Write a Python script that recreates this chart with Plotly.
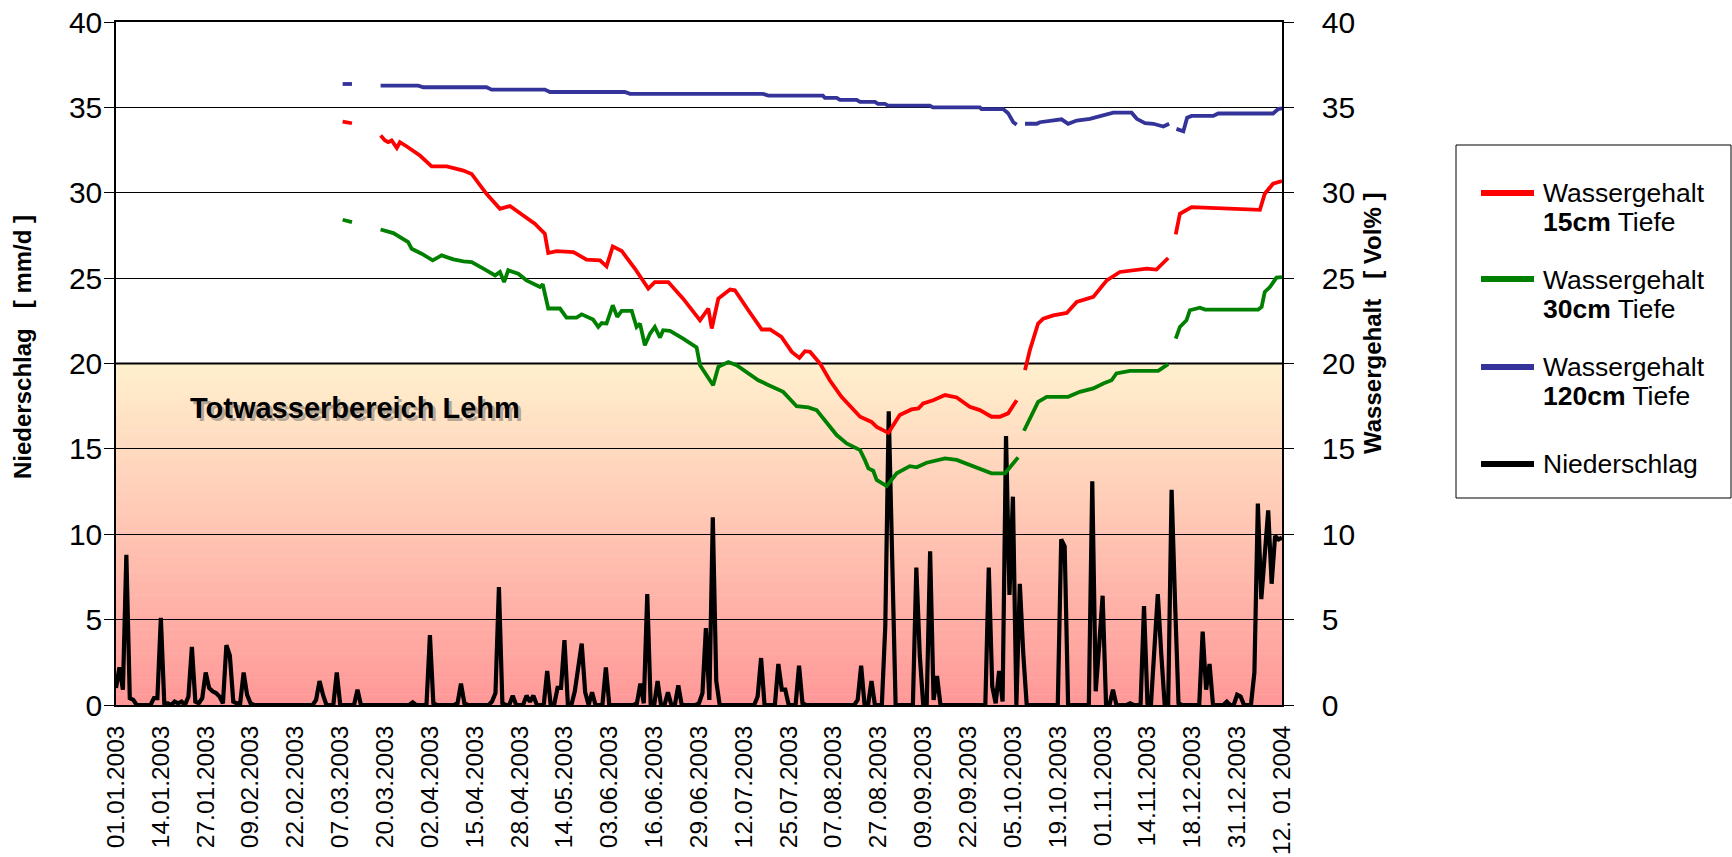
import plotly.graph_objects as go

# ---------------- data ----------------
TICK_LABELS = ["01.01.2003", "14.01.2003", "27.01.2003", "09.02.2003", "22.02.2003",
               "07.03.2003", "20.03.2003", "02.04.2003", "15.04.2003", "28.04.2003",
               "14.05.2003", "03.06.2003", "16.06.2003", "29.06.2003", "12.07.2003",
               "25.07.2003", "07.08.2003", "27.08.2003", "09.09.2003", "22.09.2003",
               "05.10.2003", "19.10.2003", "01.11.2003", "14.11.2003", "18.12.2003",
               "31.12.2003", "12. 01 2004"]
TICK_STEP = 13          # one label every 13 measuring days
N_DAYS = 339            # day index 0 .. 338

# daily precipitation [mm/d], 13 values per row (one row per label interval)
PRECIP = [
    1.0, 2.2, 0.9, 8.8, 0.4, 0.3, 0, 0, 0, 0, 0, 0.4, 0.4,
    5.1, 0.1, 0.1, 0, 0.2, 0.1, 0.2, 0, 0.5, 3.4, 0.2, 0.1, 0.4,
    1.9, 1.0, 0.8, 0.7, 0.5, 0.1, 3.5, 2.9, 0.2, 0.1, 0.1, 1.9, 0.6,
    0.1, 0, 0, 0, 0, 0, 0, 0, 0, 0, 0, 0, 0,
    0, 0, 0, 0, 0, 0, 0.3, 1.4, 0.6, 0, 0, 0, 1.9,
    0, 0, 0, 0, 0, 0.9, 0, 0, 0, 0, 0, 0, 0,
    0, 0, 0, 0, 0, 0, 0, 0, 0.15, 0, 0, 0, 0,
    4.1, 0.1, 0, 0, 0, 0, 0, 0, 0.1, 1.25, 0.1, 0, 0,
    0, 0, 0, 0, 0, 0.2, 0.7, 6.9, 0.1, 0, 0, 0.55, 0,
    0, 0, 0.55, 0.2, 0.55, 0, 0, 0, 2.0, 0, 0, 1.0, 1.0,
    3.8, 0, 0, 0.8, 2.2, 3.6, 0.75, 0, 0.75, 0, 0, 0, 2.2,
    0, 0, 0, 0, 0, 0, 0, 0, 0.1, 1.25, 0.1, 6.5, 0,
    0, 1.4, 0, 0, 0.75, 0, 0, 1.15, 0, 0, 0, 0, 0,
    0.1, 0.7, 4.5, 0.3, 11.0, 1.4, 0, 0, 0, 0, 0, 0, 0,
    0, 0, 0, 0, 0.5, 2.75, 0, 0, 0, 0, 2.4, 0.9, 0.9,
    0, 0, 0, 2.3, 0.1, 0, 0, 0, 0, 0, 0, 0, 0,
    0, 0, 0, 0, 0, 0, 0, 0.3, 2.3, 0, 0, 1.4, 0,
    0, 0, 4.6, 17.2, 8.6, 0, 0, 0, 0, 0, 0, 8.05, 2.9,
    0, 0, 9.0, 0.3, 1.7, 0, 0, 0, 0, 0, 0, 0, 0,
    0, 0, 0, 0, 0, 0, 8.05, 1.1, 0.1, 2.0, 0.2, 15.75, 6.45,
    12.2, 0, 7.1, 3.0, 0, 0, 0, 0, 0, 0, 0, 0, 0,
    0, 9.7, 9.3, 0, 0, 0, 0, 0, 0, 0, 13.1, 0.8, 3.5,
    6.4, 0, 0, 0.9, 0, 0, 0, 0, 0.1, 0, 0, 0, 5.8,
    0.1, 0, 3.0, 6.5, 3.0, 0, 0, 12.6, 6.0, 0.1, 0, 0, 0,
    0, 0, 0, 4.3, 0.9, 2.4, 0, 0, 0, 0, 0.2, 0, 0,
    0.6, 0.5, 0, 0, 0, 1.9, 11.8, 6.2, 8.8, 11.4, 7.1, 9.9, 9.7,
    9.8,
]

# water content [Vol%]  (day index, value); None = no measurement
W15_X = [65.7, 66.7, 68.4, 72,
         76.7, 78.0, 78.9, 79.9, 81.4, 82.3, 84.3, 88.1, 91.5, 95.9, 100.7, 103.1, 107.4,
         111.3, 114.2, 118.0, 121.4, 124.3, 125.3, 127.7, 132.6, 136.4, 140.3, 142.2, 144.0,
         146.6, 150.4, 154.3, 156.2, 160.1, 164.4, 169.3, 171.7, 172.7, 174.6, 178.0, 179.4,
         183.3, 187.2, 189.6, 192.9, 195.9, 198.1, 199.7, 201.2, 204.1, 206.9, 210.3, 215.7,
         219.0, 220.5, 223.9, 227.2, 230.6, 232.6, 234.0, 236.9, 240.3, 243.7, 247.5, 250.4,
         253.8, 256.2, 258.6, 261.1, 262.3,
         263.5, 264.9, 267.3, 268.8, 271.7, 275.6, 278.5, 283.3, 287.2, 291.0, 298.8, 301.6,
         305.0, 306.1,
         307.2, 308.4, 311.8, 320.0, 323.9, 331.6, 333.0, 335.4, 338.0]
W15_Y = [34.17, 34.15, 34.07, None,
         33.35, 33.06, 32.96, 33.06, 32.63, 32.96, 32.71, 32.18, 31.54, 31.54, 31.3, 31.1, 29.94,
         29.06, 29.22, 28.67, 28.19, 27.6, 26.47, 26.58, 26.53, 26.08, 26.04, 25.69, 26.86,
         26.59, 25.56, 24.39, 24.77, 24.77, 23.8, 22.53, 23.22, 22.05, 23.8, 24.33, 24.29,
         23.12, 21.99, 21.99, 21.56, 20.68, 20.33, 20.72, 20.68, 20.0, 19.02, 18.05, 16.88,
         16.58, 16.29, 15.94, 16.98, 17.31, 17.37, 17.66, 17.85, 18.15, 18.01, 17.46, 17.27,
         16.88, 16.88, 17.08, 17.85, None,
         19.61, 20.78, 22.34, 22.63, 22.82, 22.96, 23.6, 23.9, 24.87, 25.36, 25.56, 25.5,
         26.18, None,
         27.56, 28.77, 29.16, 29.1, 29.06, 29.0, 29.94, 30.53, 30.68]

W30_X = [65.7, 66.7, 68.4, 72,
         76.7, 80.4, 84.7, 85.7, 88.6, 91.8, 94.4, 97.8, 100.7, 103.1, 106.5, 109.9, 111.3,
         112.5, 113.7, 116.6, 119.0, 122.9, 123.7, 125.3, 128.7, 130.6, 133.5, 135.0, 138.3,
         139.8, 140.8, 142.2, 144.0, 145.3, 146.6, 149.5, 150.9, 151.9, 153.3, 154.8, 156.2,
         157.7, 158.6, 160.6, 164.4, 167.3, 168.3, 169.3, 171.7, 173.1, 174.6, 177.5, 179.9,
         182.8, 186.2, 188.6, 193.4, 197.3, 200.7, 203.1, 206.0, 208.9, 211.8, 215.7, 217.1,
         218.1, 219.5, 220.5, 223.4, 226.3, 230.1, 232.1, 235.0, 240.3, 243.7, 247.5, 250.4,
         253.8, 257.7, 259.1, 261.5, 262.3,
         263.2, 267.3, 269.8, 276.0, 279.4, 283.3, 286.2, 288.6, 290.0, 293.9, 302.1, 305.0,
         306.1,
         307.2, 308.4, 310.3, 311.3, 314.2, 315.7, 331.1, 332.1, 333.0, 334.5, 336.4, 338.0]
W30_Y = [28.42, 28.38, 28.28, None,
         27.85, 27.64, 27.11, 26.72, 26.43, 26.04, 26.33, 26.1, 25.98, 25.94, 25.56, 25.16, 25.36,
         24.77, 25.46, 25.26, 24.87, 24.48, 24.64, 23.22, 23.22, 22.69, 22.69, 22.88, 22.57,
         22.14, 22.37, 22.34, 23.41, 22.73, 23.08, 23.08, 22.14, 22.34, 21.07, 21.75, 22.14,
         21.52, 21.95, 21.91, 21.46, 21.07, 20.94, 19.9, 19.12, 18.73, 19.8, 20.09, 19.9,
         19.51, 19.02, 18.79, 18.34, 17.5, 17.43, 17.27, 16.58, 15.81, 15.32, 14.93, 14.34,
         13.86, 13.72, 13.18, 12.82, 13.57, 13.99, 13.92, 14.19, 14.44, 14.35, 14.05, 13.86,
         13.57, 13.57, 13.92, 14.5, None,
         16.06, 17.75, 18.05, 18.05, 18.34, 18.54, 18.83, 19.02, 19.42, 19.57, 19.57, 19.96,
         None,
         21.46, 22.14, 22.53, 23.12, 23.27, 23.16, 23.16, 23.31, 24.19, 24.48, 25.03, 25.06]

W120_X = [65.7, 68.4, 72,
          76.7, 87.6, 89.1, 107.4, 108.9, 124.3, 125.8, 147.5, 149.0, 187.6, 189.1, 204.9,
          205.5, 208.9, 209.9, 214.7, 215.7, 220.0, 220.9, 222.9, 223.8, 235.9, 236.8, 250.4,
          250.9, 257.2, 258.6, 260.1, 261.1, 262.3,
          263.5, 266.9, 267.8, 271.7, 274.1, 276.0, 278.5, 282.3, 285.2, 289.1, 294.4, 295.9,
          298.3, 300.7, 303.6, 305.3, 306.3,
          307.4, 309.4, 310.5, 311.8, 318.1, 319.5, 335.4, 336.9, 338.0]
W120_Y = [36.37, 36.37, None,
          36.27, 36.27, 36.18, 36.18, 36.04, 36.04, 35.9, 35.9, 35.79, 35.79, 35.69, 35.69,
          35.56, 35.56, 35.44, 35.44, 35.32, 35.32, 35.2, 35.2, 35.1, 35.1, 35.0, 35.0,
          34.9, 34.9, 34.66, 34.13, 33.99, None,
          34.04, 34.04, 34.13, 34.27, 34.3, 34.04, 34.23, 34.33, 34.5, 34.69, 34.69, 34.33,
          34.08, 34.04, 33.88, 34.04, None,
          33.74, 33.6, 34.4, 34.5, 34.5, 34.64, 34.64, 34.9, 34.95]

TOTWASSER_LIMIT = 20     # upper bound of the dead-water zone [Vol%]
Y_MAX = 40

SERIES = [
    ("Wassergehalt", "15cm", W15_X, W15_Y, "#FF0000"),
    ("Wassergehalt", "30cm", W30_X, W30_Y, "#008000"),
    ("Wassergehalt", "120cm", W120_X, W120_Y, "#333399"),
]

# ---------------- layout geometry (pixels) ----------------
W, H = 1732, 857
L, R, T, B = 116, 1282, 22, 705
FONT = "Liberation Sans, Arial, sans-serif"


def px(x):
    return (x - L) / (R - L)


def py(y):
    return (B - y) / (B - T)


fig = go.Figure()

for name, depth, xs, ys, col in SERIES:
    fig.add_trace(go.Scatter(x=xs, y=ys, mode="lines", yaxis="y2",
                             line=dict(color=col, width=3.8), connectgaps=False,
                             name=f"{name} {depth} Tiefe", showlegend=False))

fig.add_trace(go.Scatter(x=list(range(N_DAYS)), y=PRECIP, mode="lines",
                         line=dict(color="black", width=4.2),
                         name="Niederschlag", showlegend=False))

# gradient band 0..20 (drawn below gridlines)
shapes = []
NSTRIP = 100
c_top = (255, 240, 205)
c_bot = (255, 152, 152)
for i in range(NSTRIP):
    f = (i + 0.5) / NSTRIP
    col = tuple(round(c_bot[k] + (c_top[k] - c_bot[k]) * f) for k in range(3))
    y0 = TOTWASSER_LIMIT * i / NSTRIP
    y1 = min(TOTWASSER_LIMIT, TOTWASSER_LIMIT * (i + 1) / NSTRIP + 0.03)
    shapes.append(dict(type="rect", xref="x domain", yref="y", x0=0, x1=1, y0=y0, y1=y1,
                       fillcolor="rgb(%d,%d,%d)" % col, line=dict(width=0), layer="below"))
# upper border of the band
shapes.append(dict(type="line", xref="x domain", yref="y", x0=0, x1=1,
                   y0=TOTWASSER_LIMIT, y1=TOTWASSER_LIMIT,
                   line=dict(color="black", width=2), layer="below"))

# legend box (manual)
shapes.append(dict(type="rect", xref="paper", yref="paper",
                   x0=px(1456), x1=px(1731), y0=py(498), y1=py(145),
                   line=dict(color="black", width=1), fillcolor="white", layer="above"))
legend_rows = [(193, "#FF0000"), (279, "#008000"), (367, "#333399"), (464, "black")]
for yy, col in legend_rows:
    shapes.append(dict(type="line", xref="paper", yref="paper",
                       x0=px(1481), x1=px(1534), y0=py(yy), y1=py(yy),
                       line=dict(color=col, width=6)))

ann = []
texts = [(193, "Wassergehalt"), (222, "<b>15cm</b> Tiefe"),
         (280, "Wassergehalt"), (309, "<b>30cm</b> Tiefe"),
         (367, "Wassergehalt"), (396, "<b>120cm</b> Tiefe"),
         (464, "Niederschlag")]
for yy, t in texts:
    ann.append(dict(x=px(1541), y=py(yy), xref="paper", yref="paper", text=t,
                    showarrow=False, xanchor="left", yanchor="middle",
                    font=dict(family=FONT, size=26.5, color="black")))

# axis titles
ann.append(dict(x=px(22), y=py(347), xref="paper", yref="paper",
                text="<b>Niederschlag\u00a0\u00a0\u00a0[ mm/d ]</b>", textangle=-90,
                showarrow=False, xanchor="center", yanchor="middle",
                font=dict(family=FONT, size=24, color="black")))
ann.append(dict(x=px(1373), y=py(324), xref="paper", yref="paper",
                text="<b>Wassergehalt\u00a0\u00a0\u00a0[ Vol% ]</b>", textangle=-90,
                showarrow=False, xanchor="center", yanchor="middle",
                font=dict(family=FONT, size=24, color="black")))

# zone label with shadow
for dx, dy, col in [(3, 3, "rgba(90,90,90,0.45)"), (0, 0, "black")]:
    ann.append(dict(x=px(188 + dx), y=py(408 + dy), xref="paper", yref="paper",
                    text="<b>Totwasserbereich Lehm</b>", showarrow=False,
                    xanchor="left", yanchor="middle",
                    font=dict(family=FONT, size=29, color=col)))

tickvals = [i * TICK_STEP for i in range(len(TICK_LABELS))]
yt = list(range(0, Y_MAX + 1, 5))

yax = dict(range=[0, Y_MAX], tickvals=yt, ticks="outside", ticklen=10, tickwidth=1,
           tickcolor="black", showline=True, linecolor="black", linewidth=1.5,
           tickfont=dict(family=FONT, size=30, color="black"), zeroline=False,
           automargin=False, fixedrange=True)

fig.update_layout(
    width=W, height=H,
    margin=dict(l=L, r=W - R, t=T, b=H - B, pad=0, autoexpand=False),
    paper_bgcolor="white", plot_bgcolor="white",
    showlegend=False,
    xaxis=dict(range=[0, N_DAYS - 1], tickvals=tickvals, ticktext=TICK_LABELS,
               tickangle=-90, ticks="", showline=True, linecolor="black", linewidth=1.5,
               mirror=True, showgrid=False, zeroline=False, automargin=False,
               tickfont=dict(family=FONT, size=24.5, color="black"),
               ticklabelstandoff=9),
    yaxis=dict(**yax, showgrid=True, gridcolor="black", gridwidth=1, ticklabelstandoff=-4),
    yaxis2=dict(**yax, overlaying="y", side="right", showgrid=False, ticklabelstandoff=22),
    shapes=shapes,
    annotations=ann,
)

fig.write_html("out.html", config={"displayModeBar": False},
               post_script="document.body.style.margin='0';")
